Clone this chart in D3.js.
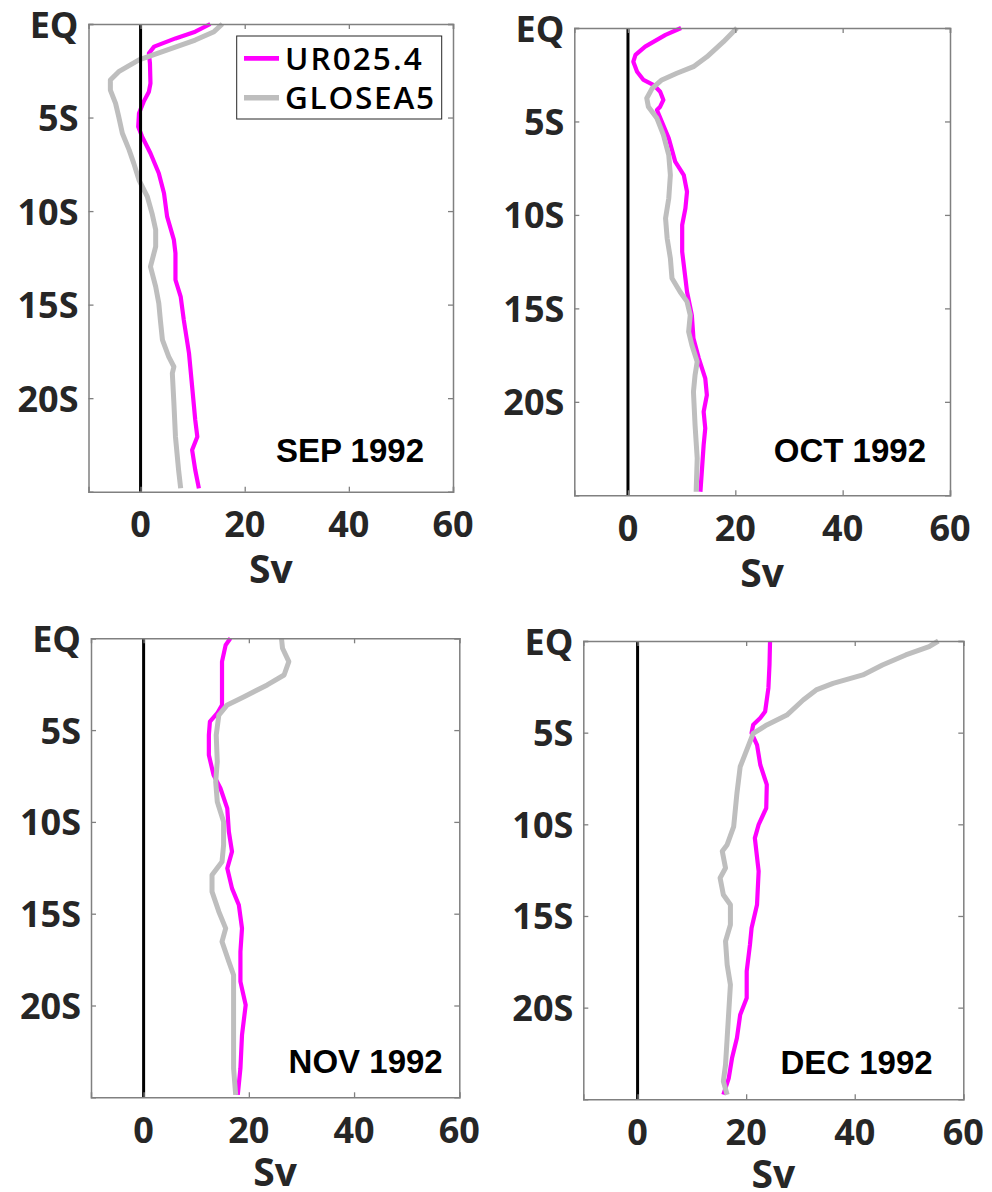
<!DOCTYPE html>
<html>
<head>
<meta charset="utf-8">
<script src="https://cdn.jsdelivr.net/npm/d3@7"></script>
<style>
  html, body { margin: 0; padding: 0; background: #fff; }
  svg { display: block; }
</style>
</head>
<body>
<svg id="chart" width="992" height="1192"></svg>
<script>
// ---------------- DATA ----------------
const seriesNames = ["UR025.4", "GLOSEA5"];
const monthTitles = ["SEP 1992", "OCT 1992", "NOV 1992", "DEC 1992"];
const xTickValues = [0, 20, 40, 60];
const yTickValues = [0, 5, 10, 15, 20];
const yTickLabels = ["EQ", "5S", "10S", "15S", "20S"];
const xDomain = [-10, 60];
const yDomain = [0, 25];
const xAxisTitle = "Sv";

// [latitude south (deg), transport (Sv)]
const sepUR = [[0,13.4],[0.41,10.5],[0.77,6.7],[1.21,2.6],[1.57,1.6],[2.1,1.8],[3.17,1.9],[3.62,1.6],[4.15,0.6],[4.77,-0.3],[5.49,-0.45],[6.02,0.3],[6.91,1.9],[7.98,3.5],[9.05,4.5],[10.3,5.1],[11.54,6.4],[12.26,6.7],[13.68,6.7],[14.57,7.7],[15.82,8.3],[17.6,9.3],[19.38,9.9],[21.17,10.5],[22.06,10.9],[22.77,9.9],[23.84,10.5],[24.82,11.2]];
const sepGS = [[0,15.7],[0.41,14.1],[0.86,10.5],[1.48,4.2],[1.92,-0.3],[2.55,-4.2],[2.99,-5.8],[3.53,-5.8],[4.24,-4.8],[4.95,-4.2],[5.84,-3.5],[6.73,-2.2],[7.45,-1.3],[8.34,-0.3],[9.23,1.3],[10.12,2.2],[11.0,2.9],[11.9,2.9],[12.97,1.9],[14.04,2.9],[14.93,3.5],[15.82,3.8],[16.89,4.2],[17.78,5.4],[18.32,6.4],[18.67,6.1],[20.27,6.4],[22.06,6.7],[23.84,7.3],[24.82,7.7]];

const octUR = [[0,9.9],[0.37,7.0],[1.0,3.2],[1.44,1.4],[1.8,1.0],[2.34,1.7],[2.78,2.9],[3.05,4.8],[3.41,6.0],[3.85,6.6],[4.21,6.0],[4.39,5.4],[5.01,6.3],[5.9,7.6],[7.15,8.8],[7.87,10.4],[8.76,11.0],[9.65,10.7],[10.54,10.1],[11.97,10.1],[13.39,10.7],[14.11,11.0],[15.36,11.9],[16.6,12.2],[17.67,13.2],[18.74,14.4],[19.64,14.7],[20.53,14.1],[21.42,14.4],[22.31,14.1],[23.56,13.8],[24.81,13.5]];
const octGS = [[0,20.3],[0.73,17.8],[1.54,14.7],[2.07,12.2],[2.42,9.1],[2.78,6.3],[3.23,4.5],[3.76,3.5],[4.21,3.8],[4.83,5.4],[5.72,6.6],[6.8,7.6],[7.87,7.9],[9.11,7.6],[10.18,7.0],[11.25,7.3],[12.32,7.9],[13.39,8.2],[14.11,9.7],[14.64,11.0],[15.36,11.6],[16.25,11.3],[16.96,11.9],[17.85,12.9],[18.57,12.5],[19.46,12.2],[21.24,12.5],[23.02,12.9],[24.81,12.7]];

const novUR = [[0,16.5],[0.36,15.6],[1.27,14.9],[2.54,14.9],[3.63,14.9],[4.08,14.0],[4.54,12.6],[5.27,12.4],[6.36,12.4],[7.45,13.3],[8.17,14.6],[9.26,15.9],[10.53,16.2],[11.62,16.8],[12.53,15.9],[13.62,16.8],[14.53,18.1],[15.8,18.7],[17.07,18.4],[18.7,18.4],[19.97,19.4],[21.61,18.7],[23.42,18.4],[24.87,17.9]];
const novGS = [[0,26.2],[0.54,26.4],[1.27,27.6],[2.0,26.7],[2.54,23.5],[3.18,19.1],[3.63,15.9],[4.18,14.3],[5.27,13.8],[6.72,14.0],[7.81,13.7],[8.9,14.0],[9.99,15.2],[11.26,15.2],[12.17,14.9],[12.89,13.0],[13.8,13.0],[14.89,14.3],[15.8,15.6],[16.52,14.9],[17.61,16.2],[18.34,17.1],[19.79,17.1],[21.61,17.1],[23.42,17.1],[24.87,17.5]];

const decUR = [[0,24.4],[1.29,24.3],[2.56,24.1],[3.84,23.5],[4.2,22.6],[4.57,21.3],[5.02,21.0],[5.66,22.0],[6.75,22.6],[7.84,23.8],[9.11,23.7],[10.02,22.3],[10.75,21.6],[12.56,22.3],[14.39,22.0],[15.66,21.0],[16.57,20.7],[18.02,20.1],[19.48,20.1],[20.39,18.9],[21.66,18.3],[22.75,17.4],[23.84,16.8],[24.75,15.8]];
const decGS = [[0,55.4],[0.31,53.7],[0.76,49.4],[1.31,45.1],[1.85,41.5],[2.31,36.0],[2.67,32.9],[3.22,30.5],[4.04,27.5],[4.58,23.8],[5.04,21.3],[6.86,18.9],[8.31,18.3],[10.13,17.7],[11.11,16.5],[11.47,15.6],[12.38,16.2],[12.93,15.2],[13.84,15.8],[14.39,17.1],[15.48,17.1],[16.38,16.2],[17.66,16.5],[18.75,17.1],[20.2,16.8],[21.66,16.5],[23.11,16.2],[24.02,15.8],[24.75,16.5]];

const panelData = [[sepUR, sepGS], [octUR, octGS], [novUR, novGS], [decUR, decGS]];

// ---------------- LAYOUT / STYLE ----------------
const panels = [
  {l: 88.5, t: 24, r: 453, b: 491.7, svDy: 91.4, title: {dx: -29, dy: -29.4}},
  {l: 574.3, t: 28, r: 950, b: 495.3, svDy: 91.4, title: {dx: -24, dy: -33.3}},
  {l: 91, t: 638.3, r: 459.3, b: 1097.3, svDy: 88.7, title: {dx: -16.6, dy: -24.3}},
  {l: 583.3, t: 641, r: 963.3, b: 1099.3, svDy: 88.2, title: {dx: -30.6, dy: -25.3}}
];
const colors = ["#ff00ff", "#bebebe"];
const widths = [4.2, 5];
const axisColor = "#808080";
const labelColor = "#262626";
const tickFont = "'Open Sans', 'Noto Sans', sans-serif";

const svg = d3.select("#chart");

panels.forEach((p, i) => {
  const x = d3.scaleLinear().domain(xDomain).range([p.l, p.r]);
  const y = d3.scaleLinear().domain(yDomain).range([p.t, p.b]);
  const g = svg.append("g");

  g.append("rect").attr("x", p.l).attr("y", p.t)
    .attr("width", p.r - p.l).attr("height", p.b - p.t).attr("fill", "#fff");

  const line = d3.line().x(d => x(d[1])).y(d => y(d[0]));
  panelData[i].forEach((s, k) => {
    g.append("path").datum(s)
      .attr("d", line)
      .attr("fill", "none")
      .attr("stroke", colors[k])
      .attr("stroke-width", widths[k])
      .attr("stroke-linejoin", "round")
      .attr("stroke-linecap", "butt");
  });

  g.append("line")
    .attr("x1", x(0)).attr("x2", x(0))
    .attr("y1", y(yDomain[0])).attr("y2", y(yDomain[1]))
    .attr("stroke", "#000").attr("stroke-width", 3);

  const axB = d3.axisBottom(x).tickValues(xTickValues).tickSize(-5).tickFormat("");
  const axT = d3.axisTop(x).tickValues(xTickValues).tickSize(-5).tickFormat("");
  const axL = d3.axisLeft(y).tickValues(yTickValues).tickSize(-5).tickFormat("");
  const axR = d3.axisRight(y).tickValues(yTickValues).tickSize(-5).tickFormat("");
  [[axB, `translate(0,${p.b})`], [axT, `translate(0,${p.t})`],
   [axL, `translate(${p.l},0)`], [axR, `translate(${p.r},0)`]].forEach(([ax, tr]) => {
    const a = g.append("g").attr("transform", tr).call(ax);
    a.selectAll("path.domain").attr("stroke", axisColor).attr("stroke-width", 1.5);
    a.selectAll(".tick line").attr("stroke", axisColor).attr("stroke-width", 1.3);
  });

  g.selectAll("text.xt").data(xTickValues).enter().append("text")
    .attr("x", d => x(d)).attr("y", p.b + 45.4)
    .attr("text-anchor", "middle")
    .attr("font-family", tickFont).attr("font-weight", 700).attr("font-size", 36)
    .attr("fill", labelColor).text(d => d);

  g.selectAll("text.yt").data(yTickValues).enter().append("text")
    .attr("x", p.l - 10).attr("y", d => y(d) + 13.5)
    .attr("text-anchor", "end")
    .attr("font-family", tickFont).attr("font-weight", 700).attr("font-size", 36)
    .attr("fill", labelColor).text((d, j) => yTickLabels[j]);

  g.append("text")
    .attr("x", (p.l + p.r) / 2).attr("y", p.b + p.svDy)
    .attr("text-anchor", "middle")
    .attr("font-family", tickFont).attr("font-weight", 700).attr("font-size", 39)
    .attr("fill", labelColor).text(xAxisTitle);

  g.append("text")
    .attr("x", p.r + p.title.dx).attr("y", p.b + p.title.dy)
    .attr("text-anchor", "end")
    .attr("font-family", "'Liberation Sans', Arial, sans-serif")
    .attr("font-weight", 700).attr("font-size", 33)
    .attr("fill", "#000").text(monthTitles[i]);

  if (i === 0) {
    const lg = g.append("g");
    lg.append("rect").attr("x", 236.7).attr("y", 36).attr("width", 205).attr("height", 83)
      .attr("fill", "#fff").attr("stroke", "#262626").attr("stroke-width", 1);
    seriesNames.forEach((n, k) => {
      const yy = [58.3, 97.7][k];
      lg.append("line").attr("x1", 244).attr("x2", 279).attr("y1", yy).attr("y2", yy)
        .attr("stroke", colors[k]).attr("stroke-width", widths[k] + 0.5);
      lg.append("text").attr("x", 285).attr("y", yy + 11.3)
        .attr("font-family", tickFont).attr("font-weight", 600).attr("font-size", 31.5)
        .attr("fill", "#000").attr("textLength", [136.7, 149][k]).attr("lengthAdjust", "spacing")
        .text(n);
    });
  }
});
</script>
</body>
</html>
